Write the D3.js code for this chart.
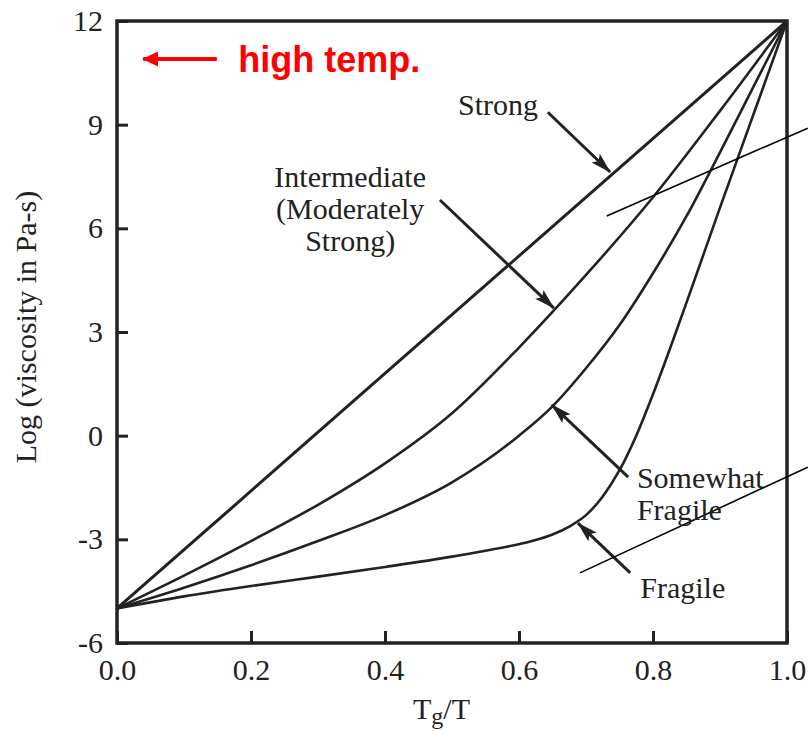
<!DOCTYPE html>
<html>
<head>
<meta charset="utf-8">
<script src="https://cdn.jsdelivr.net/npm/d3@7"></script>
<style>
  html, body { margin: 0; padding: 0; background: #fff; }
  svg { display: block; font-family: "Liberation Serif", "Times New Roman", serif; }
</style>
</head>
<body>
<svg id="chart" width="808" height="732"></svg>
<script>
// x = Tg/T, y = log10 viscosity (Pa-s)
const xTicks = [0, 0.2, 0.4, 0.6, 0.8, 1.0];
const yTicks = [-6, -3, 0, 3, 6, 9, 12];

const strongX = [0, 0.5, 1.0];
const strongY = [-5, 3.5, 12];

const intermediateX = [0, 0.1, 0.2, 0.3, 0.4, 0.5, 0.6, 0.7, 0.8, 0.9, 1.0];
const intermediateY = [-5, -4.05, -3.05, -2.0, -0.8, 0.65, 2.55, 4.65, 6.9, 9.4, 12];

const somewhatX = [0, 0.1, 0.2, 0.3, 0.4, 0.5, 0.6, 0.65, 0.7, 0.75, 0.8, 0.85, 0.9, 0.95, 1.0];
const somewhatY = [-5, -4.4, -3.75, -3.05, -2.3, -1.35, 0.0, 0.85, 1.95, 3.2, 4.7, 6.35, 8.2, 10.1, 12];

const fragileX = [0, 0.1, 0.2, 0.3, 0.4, 0.5, 0.55, 0.6, 0.625, 0.65, 0.675, 0.7, 0.725, 0.75, 0.775, 0.8, 0.85, 0.9, 0.95, 1.0];
const fragileY = [-5, -4.65, -4.35, -4.08, -3.8, -3.5, -3.33, -3.14, -3.02, -2.86, -2.63, -2.3, -1.76, -1.0, 0.0, 1.2, 3.85, 6.6, 9.3, 12];

// arrows pointing at the curves, in data units
const arrowFrom = [[0.643, 9.36], [0.482, 6.82], [0.763, -1.20], [0.766, -3.97]];
const arrowTo = [[0.736, 7.63], [0.652, 3.69], [0.649, 0.89], [0.688, -2.53]];

// the two thin leader lines
const leaderLines = [
  [[0.731, 6.36], [1.031, 8.90]],
  [[0.691, -3.97], [1.031, -0.91]]
];

const labels = [
  { lines: ['Strong'], at: [0.509, 9.28], anchor: 'start' },
  { lines: ['Intermediate', '(Moderately', 'Strong)'], at: [0.348, 7.19], anchor: 'middle' },
  { lines: ['Somewhat', 'Fragile'], at: [0.776, -1.51], anchor: 'start' },
  { lines: ['Fragile'], at: [0.781, -4.70], anchor: 'start' }
];

const hotArrow = [[0.149, 10.9], [0.039, 10.9]];
const hotLabel = { text: 'high temp.', at: [0.181, 10.52] };

const margin = { top: 21, right: 21, bottom: 89, left: 117 };
const width = 808 - margin.left - margin.right;
const height = 732 - margin.top - margin.bottom;
const ink = '#222';

const svg = d3.select('#chart');

const defs = svg.append('defs');
defs.append('marker')
  .attr('id', 'head')
  .attr('markerUnits', 'userSpaceOnUse')
  .attr('viewBox', '0 -7 21 14')
  .attr('markerWidth', 21).attr('markerHeight', 14)
  .attr('refX', 20).attr('refY', 0)
  .attr('orient', 'auto')
  .append('path').attr('d', 'M0,-6L21,0L0,6L4,0Z').attr('fill', ink);
defs.append('marker')
  .attr('id', 'redhead')
  .attr('markerUnits', 'userSpaceOnUse')
  .attr('viewBox', '0 -8 16 16')
  .attr('markerWidth', 16).attr('markerHeight', 16)
  .attr('refX', 15).attr('refY', 0)
  .attr('orient', 'auto')
  .append('path').attr('d', 'M0,-7.5L16,0L0,7.5Z').attr('fill', '#ff0000');

const g = svg.append('g').attr('transform', `translate(${margin.left},${margin.top})`);

const x = d3.scaleLinear().domain([0, 1]).range([0, width]);
const y = d3.scaleLinear().domain([-6, 12]).range([height, 0]);

// axes, ticks pointing inward
const xAxis = d3.axisBottom(x).tickValues(xTicks).tickFormat(d3.format('.1f'))
  .tickSizeInner(-12).tickSizeOuter(0).tickPadding(16);
const yAxis = d3.axisLeft(y).tickValues(yTicks).tickFormat(d => String(d))
  .tickSizeInner(-11).tickSizeOuter(0).tickPadding(14);

const gx = g.append('g').attr('transform', `translate(0,${height})`).call(xAxis);
const gy = g.append('g').call(yAxis);
[gx, gy].forEach(a => {
  a.select('.domain').remove();
  a.selectAll('line').attr('stroke', ink).attr('stroke-width', 3);
  a.selectAll('text').attr('fill', ink)
    .style('font-family', '"Liberation Serif", serif').style('font-size', '30px');
});

// frame
g.append('rect')
  .attr('x', 0).attr('y', 0).attr('width', width).attr('height', height)
  .attr('fill', 'none').attr('stroke', ink).attr('stroke-width', 3.5);

// curves
const line = d3.line().x(d => x(d[0])).y(d => y(d[1])).curve(d3.curveMonotoneX);
const series = [
  { xs: strongX, ys: strongY, w: 3 },
  { xs: intermediateX, ys: intermediateY, w: 2.6 },
  { xs: somewhatX, ys: somewhatY, w: 2.6 },
  { xs: fragileX, ys: fragileY, w: 2.6 }
];
series.forEach(s => {
  g.append('path')
    .datum(s.xs.map((v, i) => [v, s.ys[i]]))
    .attr('d', line)
    .attr('fill', 'none')
    .attr('stroke', ink)
    .attr('stroke-width', s.w)
    .attr('stroke-linejoin', 'round');
});

// pointer arrows
arrowFrom.forEach((p, i) => {
  g.append('line')
    .attr('x1', x(p[0])).attr('y1', y(p[1]))
    .attr('x2', x(arrowTo[i][0])).attr('y2', y(arrowTo[i][1]))
    .attr('stroke', ink).attr('stroke-width', 3)
    .attr('marker-end', 'url(#head)');
});

// thin leader lines
leaderLines.forEach(l => {
  g.append('line')
    .attr('x1', x(l[0][0])).attr('y1', y(l[0][1]))
    .attr('x2', x(l[1][0])).attr('y2', y(l[1][1]))
    .attr('stroke', '#000').attr('stroke-width', 1.6);
});

// curve labels
labels.forEach(lb => {
  const t = g.append('text')
    .attr('x', x(lb.at[0])).attr('y', y(lb.at[1]))
    .attr('text-anchor', lb.anchor)
    .attr('fill', ink)
    .style('font-size', '30px');
  lb.lines.forEach((s, i) => {
    t.append('tspan')
      .attr('x', x(lb.at[0]))
      .attr('dy', i === 0 ? 0 : 32)
      .text(s);
  });
});

// high temp. note
g.append('line')
  .attr('x1', x(hotArrow[0][0])).attr('y1', y(hotArrow[0][1]))
  .attr('x2', x(hotArrow[1][0])).attr('y2', y(hotArrow[1][1]))
  .attr('stroke', '#ff0000').attr('stroke-width', 4)
  .attr('marker-end', 'url(#redhead)');
g.append('text')
  .attr('x', x(hotLabel.at[0])).attr('y', y(hotLabel.at[1]))
  .attr('fill', '#ff0000')
  .style('font-family', '"Liberation Sans", Arial, sans-serif')
  .style('font-weight', 'bold')
  .style('font-size', '36px')
  .text(hotLabel.text);

// axis titles
svg.append('text')
  .attr('transform', 'translate(36,327) rotate(-90)')
  .attr('text-anchor', 'middle')
  .attr('fill', ink)
  .style('font-size', '30px')
  .text('Log (viscosity in Pa-s)');

const xt = svg.append('text')
  .attr('x', 413).attr('y', 719)
  .attr('fill', ink)
  .style('font-size', '30px');
xt.append('tspan').text('T');
xt.append('tspan').attr('dy', 5).style('font-size', '24px').text('g');
xt.append('tspan').attr('dy', -5).text('/T');
</script>
</body>
</html>
